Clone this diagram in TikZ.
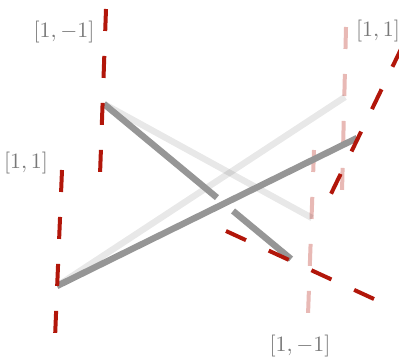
\documentclass[tikz,border=0pt]{standalone}
\usepackage{amsmath}
\usepackage{xcolor}
\usepackage{tikz}
\usetikzlibrary{calc}
\definecolor{axred}{RGB}{178,22,10}
\definecolor{bargray}{RGB}{150,150,150}
\definecolor{lblgray}{RGB}{120,120,120}

\begin{document}
\begin{tikzpicture}[x=0.5pt,y=-0.5pt]
    \tikzset{axdash/.style={line width=2pt,dash pattern=on 11pt off 12.5pt},
      ax/.style={axdash,draw=axred},
      axfaint/.style={axdash,draw=axred,draw opacity=0.3},
      barfront/.style={line width=3.2pt,draw=bargray},
      barback/.style={line width=3.2pt,draw=black,draw opacity=0.09},
      lbl/.style={text=lblgray,font=\fontsize{10.9}{12}\selectfont,inner sep=0pt}}
    \useasboundingbox (0,0) rectangle (399,358);
    % bar end points
    \coordinate (a) at (104,104); \coordinate (afront) at (291,259); \coordinate (aback) at (312,218);
    \coordinate (b) at (57,286); \coordinate (bfront) at (357,138); \coordinate (bback) at (345,97);
    % axis ends
    \coordinate (u1) at (106,9); \coordinate (u2) at (100,175);
    \coordinate (v1) at (62,170); \coordinate (v2) at (55,338);
    \coordinate (p1) at (346,27); \coordinate (p2) at (342,192);
    \coordinate (q1) at (314,150); \coordinate (q2) at (308,315);
    \coordinate (r1) at (402,47); \coordinate (r2) at (329,198);
    \coordinate (s1) at (226,231); \coordinate (s2) at (374,299);
    \draw[axfaint] (p1) -- (p2);
    \draw[axfaint] (q1) -- (q2);
    \draw[barback] (a) -- (aback);
    \draw[barback] (b) -- (bback);
    \draw[barfront] (a) -- ($(a)!0.604!(afront)$);
    \draw[barfront] ($(a)!0.69!(afront)$) -- (afront);
    \draw[barfront] (b) -- (bfront);
    \foreach \e/\f in {u1/u2,v1/v2,r1/r2,s1/s2}{
      \draw[ax] (\e) -- (\f);
    }
    \node[lbl] (topleft) at (64,32) {$[1,-1]$};
    \node[lbl] (midleft) at (26,163) {$[1,1]$};
    \node[lbl] (topright) at (378,31) {$[1,1]$};
    \node[lbl] (bottom) at (300,346) {$[1,-1]$};
  \end{tikzpicture}
\end{document}
